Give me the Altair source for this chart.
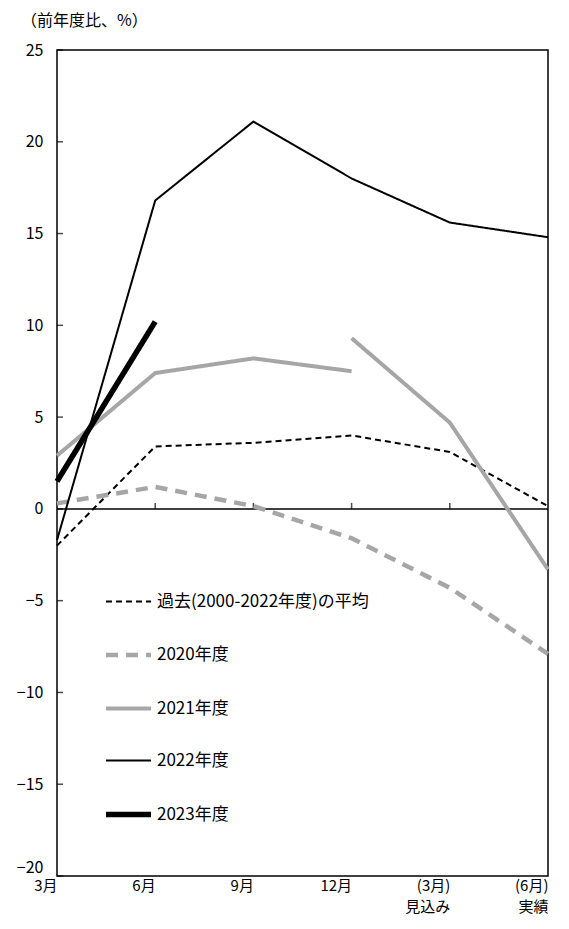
import altair as alt
import pandas as pd

months = ["3月", "6月", "9月", "12月", "(3月)\n見込み", "(6月)\n実績"]
series_names = ["過去(2000-2022年度)の平均", "2020年度", "2021年度", "2022年度", "2023年度"]

avg_vals = [-2.0, 3.4, 3.6, 4.0, 3.1, 0.15]
y2020_vals = [0.3, 1.2, 0.15, -1.6, -4.3, -7.9]
y2021_a_vals = [2.9, 7.4, 8.2, 7.5]
y2021_b_vals = [9.3, 4.7, -3.3]
y2022_vals = [-1.7, 16.8, 21.1, 18.0, 15.6, 14.8]
y2023_vals = [1.5, 10.2]

y_ticks = [-20, -15, -10, -5, 0, 5, 10, 15, 20, 25]

rows = []
def add(name, seg, ms, vals):
    for i, (m, v) in enumerate(zip(ms, vals)):
        rows.append({"series": name, "seg": seg, "month": m, "value": v, "ord": i})

add(series_names[0], "a", months, avg_vals)
add(series_names[1], "a", months, y2020_vals)
add(series_names[2], "a", months[:4], y2021_a_vals)
add(series_names[2], "b", months[3:], y2021_b_vals)
add(series_names[3], "a", months, y2022_vals)
add(series_names[4], "a", months[:2], y2023_vals)
df = pd.DataFrame(rows)

FONT = "Noto Sans CJK JP"

x_enc = alt.X("month:N", sort=months, scale=alt.Scale(type="point", padding=0),
              axis=alt.Axis(title=None, ticks=False, domain=False, labelAngle=0,
                            labelExpr="split(datum.label, '\\n')",
                            labelFont=FONT, labelFontSize=15, labelColor="black",
                            labelPadding=2, labelLineHeight=21, labelBaseline="top"))
y_enc = alt.Y("value:Q", scale=alt.Scale(domain=[-20, 25], nice=False, zero=False),
              axis=alt.Axis(title=None, values=y_ticks, ticks=False, domain=False, grid=False,
                            labelFont=FONT, labelFontSize=16, labelColor="black",
                            labelPadding=14,
                            labelOffset={"condition": {"test": "datum.value === -20", "value": -9},
                                         "value": 0}))

lines = alt.Chart(df).mark_line(strokeCap="butt", strokeJoin="round").encode(
    x=x_enc,
    y=y_enc,
    detail="seg:N",
    order="ord:Q",
    color=alt.Color("series:N", sort=series_names,
                    scale=alt.Scale(domain=series_names,
                                    range=["#000000", "#a6a6a6", "#a6a6a6", "#000000", "#000000"]),
                    legend=alt.Legend(title=None, orient="none", legendX=46, legendY=528,
                                      symbolType="stroke", symbolSize=2025,
                                      labelFont=FONT, labelFontSize=17, labelColor="black",
                                      labelOffset=3, rowPadding=20, labelLimit=400)),
    strokeDash=alt.StrokeDash("series:N", sort=series_names,
                              scale=alt.Scale(type="ordinal", domain=series_names,
                                              range=[[6, 4], [12, 8], [1, 0], [1, 0], [1, 0]])),
    strokeWidth=alt.StrokeWidth("series:N", sort=series_names,
                                scale=alt.Scale(type="ordinal", domain=series_names,
                                                range=[2, 4.5, 4, 2, 5.5])),
)

zero = alt.Chart(pd.DataFrame({"z": [0]})).mark_rule(color="black", strokeWidth=1.5).encode(y="z:Q")

ytick_df = pd.DataFrame({"month": [months[0]] * len(y_ticks), "value": y_ticks})
yticks = alt.Chart(ytick_df).mark_tick(color="black", size=6, thickness=1.5, xOffset=3,
                                       orient="horizontal").encode(
    x=alt.X("month:N", sort=months), y="value:Q")

xtick_df = pd.DataFrame({"month": months[1:5], "value": [0] * 4})
xticks = alt.Chart(xtick_df).mark_tick(color="black", size=6, thickness=1.5, yOffset=-3,
                                       orient="vertical").encode(
    x=alt.X("month:N", sort=months), y="value:Q")

chart = alt.layer(zero, xticks, yticks, lines).properties(
    width=491, height=826,
    title=alt.TitleParams("（前年度比、%）", anchor="start", frame="group", dx=-36, offset=13,
                          font=FONT, fontSize=16, fontWeight="normal", color="black"),
    autosize=alt.AutoSizeParams(type="none"),
    padding={"left": 49, "top": 42, "right": 13, "bottom": 40},
).configure_view(stroke="black", strokeWidth=1.5).configure_legend(
    symbolStrokeColor="black"
)

chart.save("out.html", embed_options={"renderer": "svg", "actions": False})
